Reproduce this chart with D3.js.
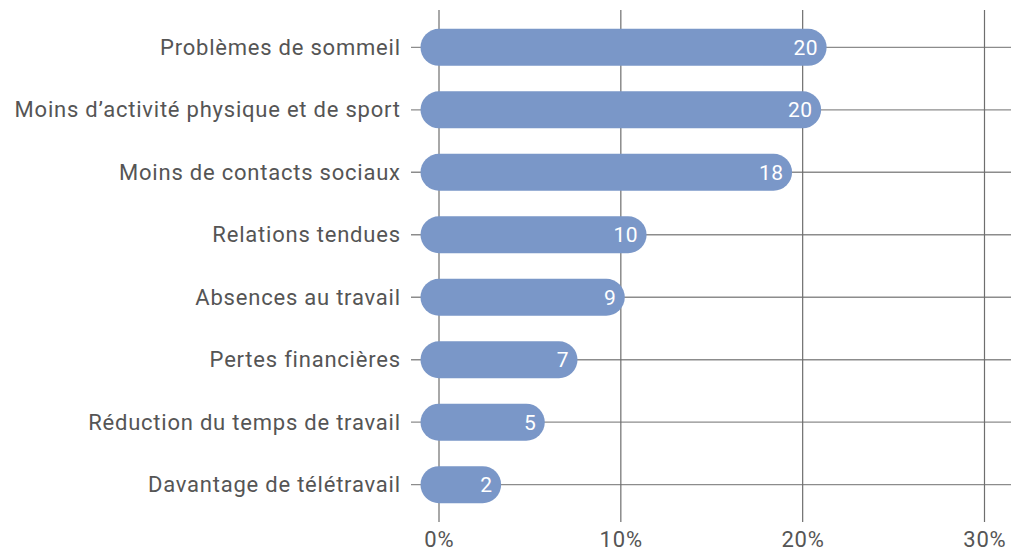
<!DOCTYPE html>
<html>
<head>
<meta charset="utf-8">
<script src="https://cdn.jsdelivr.net/npm/d3@7"></script>
<style>
  html, body { margin: 0; padding: 0; background: #fff; }
  svg { display: block; }
  text { font-family: Roboto, "Noto Sans", sans-serif; }
</style>
</head>
<body>
<svg id="chart" width="1011" height="552"></svg>
<script>
const categories = [
  "Problèmes de sommeil",
  "Moins d’activité physique et de sport",
  "Moins de contacts sociaux",
  "Relations tendues",
  "Absences au travail",
  "Pertes financières",
  "Réduction du temps de travail",
  "Davantage de télétravail"
];
const values = [20.3, 20.0, 18.4, 10.4, 9.2, 6.6, 4.8, 2.4];
const valueLabels = ["20", "20", "18", "10", "9", "7", "5", "2"];
const xTicks = [0, 10, 20, 30];
const xTickLabels = ["0%", "10%", "20%", "30%"];

const svg = d3.select("#chart");
const W = 1011;
const barH = 37;
const r = barH / 2;

const x = d3.scaleLinear().domain([0, 30]).range([439, 984.5]);
const y = d3.scalePoint().domain(categories).range([47.3, 484.7]);

// horizontal grid lines
svg.append("g").selectAll("line").data(categories).join("line")
  .attr("x1", 411).attr("x2", W)
  .attr("y1", d => y(d)).attr("y2", d => y(d))
  .attr("stroke", "#8c8c8c").attr("stroke-width", 1.3);

// vertical grid lines
svg.append("g").selectAll("line").data(xTicks).join("line")
  .attr("x1", d => x(d)).attr("x2", d => x(d))
  .attr("y1", 10).attr("y2", 522)
  .attr("stroke", "#6e6e6e").attr("stroke-width", 1.2);

// x tick labels
svg.append("g").selectAll("text").data(xTicks).join("text")
  .attr("x", d => x(d) + 0.4).attr("y", 547)
  .attr("text-anchor", "middle")
  .attr("font-size", 22)
  .attr("letter-spacing", 0.8)
  .attr("fill", "#555")
  .text((d, i) => xTickLabels[i]);

// category labels
svg.append("g").selectAll("text").data(categories).join("text")
  .attr("x", 400.8).attr("y", d => y(d) + 7.5)
  .attr("text-anchor", "end")
  .attr("font-size", 22)
  .attr("letter-spacing", 0.78)
  .attr("fill", "#555")
  .text(d => d);

// bars
svg.append("g").selectAll("rect").data(values).join("rect")
  .attr("x", x(0) - r)
  .attr("y", (d, i) => y(categories[i]) - r)
  .attr("width", d => x(d) - x(0) + barH)
  .attr("height", barH)
  .attr("rx", r).attr("ry", r)
  .attr("fill", "#7a97c8");

// value labels
svg.append("g").selectAll("text").data(values).join("text")
  .attr("x", d => x(d) + r - 8.5)
  .attr("y", (d, i) => y(categories[i]) + 7.5)
  .attr("text-anchor", "end")
  .attr("font-size", 21)
  .attr("letter-spacing", 0.5)
  .attr("fill", "#fff")
  .text((d, i) => valueLabels[i]);
</script>
</body>
</html>
